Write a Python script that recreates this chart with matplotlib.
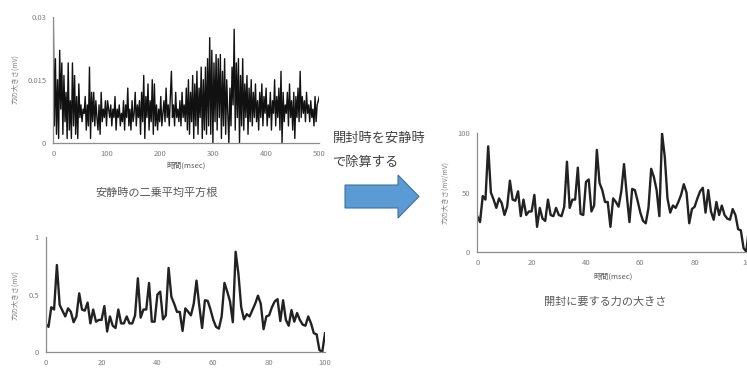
import numpy as np
import matplotlib
matplotlib.use('Agg')
import matplotlib.pyplot as plt
from matplotlib.patches import Polygon

plt.rcParams['font.family'] = ['Noto Sans CJK JP', 'DejaVu Sans']

# resting RMS (mV), sampled every 2 msec from 0 to 500
rest_rms = [
    .030, .004, .020, .002, .015, .001, .022, .008, .019, .002, .016, .005, .012,
    .001, .019, .003, .010, .001, .019, .004, .016, .002, .011, .001, .014, .006,
    .009, .005, .008, .007, .011, .003, .009, .004, .018, .001, .012, .005, .012,
    .004, .010, .006, .003, .009, .002, .012, .005, .008, .006, .010, .004,
    .010, .008, .006, .009, .004, .008, .006, .011, .003, .008, .006, .009, .004,
    .007, .005, .010, .003, .009, .006, .013, .004, .008, .003, .010, .005, .007,
    .012, .004, .009, .006, .010, .002, .012, .005, .016, .001, .011, .006, .014,
    .003, .010, .005, .015, .002, .014, .004, .009, .003, .008, .005, .011, .004,
    .007, .010, .005, .013, .006, .009, .004, .011, .017, .006, .009, .004, .012,
    .006, .008, .005, .010, .004, .012, .006, .009, .005, .013,
    .003, .015, .002, .012, .005, .016, .001, .014, .004, .017, .002, .013, .006,
    .018, .001, .015, .003, .018, .002, .020, .004, .025, .002, .022, .000, .019,
    .005, .021, .003, .020, .006, .021, .001, .017, .004, .020, .002, .015, .007,
    .000, .013, .004, .018, .009, .027, .003, .019, .006, .020, .000, .016, .004,
    .020, .003, .014, .006, .016, .002, .013, .005, .015, .004, .012, .006, .014,
    .005, .010, .003, .012, .006, .014, .004, .011, .007, .013, .004, .009, .006,
    .012, .003, .010, .007, .015, .004, .011, .006, .013, .003, .017, .000, .012,
    .005, .009, .007, .012, .004, .014, .006, .010, .003, .012, .001, .011, .006,
    .013, .005, .017, .006, .011, .007, .010, .005, .012, .007, .009, .005, .010,
    .006, .008, .004, .011, .005, .009, .010, .011,
]

# force while opening (mV), 0..100 msec
open_force = [
    .245, .22, .39, .37, .755, .41, .36, .31, .38, .35,
    .26, .31, .51, .37, .36, .43, .25, .37, .265, .28,
    .28, .40, .18, .31, .23, .21, .37, .25, .25, .31,
    .25, .25, .32, .64, .30, .37, .37, .60, .265, .265,
    .50, .525, .285, .32, .73, .48, .42, .35, .35, .185,
    .38, .35, .32, .42, .62, .40, .21, .45, .445, .37,
    .28, .22, .205, .31, .60, .525, .44, .26, .87, .68,
    .39, .285, .33, .31, .365, .42, .49, .42, .20, .31,
    .32, .39, .44, .46, .27, .45, .28, .23, .365, .265,
    .34, .28, .24, .23, .31, .25, .165, .155, .02, .0,
    .165,
]

# force divided by resting RMS (mV/mV)
ratio = [
    30, 25, 47, 44, 89, 50, 44, 37, 45, 41,
    31, 38, 60, 44, 43, 51, 30, 44, 31, 34,
    34, 48, 21, 37, 28, 26, 44, 31, 30, 37,
    31, 30, 38, 76, 37, 44, 44, 71, 32, 31,
    59, 61, 34, 39, 86, 58, 52, 42, 42, 21,
    45, 42, 38, 51, 74, 48, 25, 53, 52, 43,
    33, 26, 24, 37, 70, 63, 52, 30, 100, 80,
    45, 33, 39, 37, 42, 48, 57, 50, 24, 36,
    38, 45, 51, 54, 33, 52, 34, 27, 42, 31,
    39, 31, 28, 27, 36, 31, 19, 18, 3, 0,
    20,
]

W, H = 747, 372
def fx(px):
    return px / W
def fy(py):
    return 1 - py / H

fig = plt.figure(figsize=(W / 100, H / 100), dpi=100)

def style(ax, xticks, yticks, ylabels):
    for s in ['top', 'right']:
        ax.spines[s].set_visible(False)
    for s in ['left', 'bottom']:
        ax.spines[s].set_color('#8c8c8c')
        ax.spines[s].set_linewidth(0.9)
    ax.set_xticks(xticks)
    ax.set_yticks(yticks)
    ax.set_yticklabels(ylabels)
    ax.tick_params(length=0, labelsize=5.5, colors='#7f7f7f', pad=5)

# top left: resting RMS
ax1 = fig.add_axes([fx(53.3), fy(142.7), fx(319.3) - fx(53.3), fy(16.7) - fy(142.7)])
t = np.linspace(0, 500, len(rest_rms))
ax1.plot(t, rest_rms, color='#111111', lw=1.0)
ax1.set_xlim(0, 500)
ax1.set_ylim(0, 0.03)
style(ax1, [0, 100, 200, 300, 400, 500], [0, 0.015, 0.03], ['0', '0.015', '0.03'])
fig.text(fx(15), fy(79), '力の大きさ(mV)', rotation=90, ha='center', va='center', fontsize=5, color='#7f7f7f')
fig.text(fx(186), fy(166), '時間(msec)', ha='center', va='center', fontsize=5.5, color='#595959')
fig.text(fx(157), fy(193), '安静時の二乗平均平方根', ha='center', va='center', fontsize=8, color='#595959')

# bottom left: force while opening
ax2 = fig.add_axes([fx(45.7), fy(352.3), fx(325) - fx(45.7), fy(236.7) - fy(352.3)])
ax2.plot(range(len(open_force)), open_force, color='#222222', lw=1.7)
ax2.set_xlim(0, 100)
ax2.set_ylim(0, 1)
style(ax2, [0, 20, 40, 60, 80, 100], [0, 0.5, 1], ['0', '0.5', '1'])
fig.text(fx(15), fy(295), '力の大きさ(mV)', rotation=90, ha='center', va='center', fontsize=5, color='#7f7f7f')

# right: ratio
ax3 = fig.add_axes([fx(477.3), fy(251.7), fx(749) - fx(477.3), fy(133.3) - fy(251.7)])
ax3.plot(range(len(ratio)), ratio, color='#222222', lw=1.7)
ax3.set_xlim(0, 100)
ax3.set_ylim(0, 100)
style(ax3, [0, 20, 40, 60, 80, 100], [0, 50, 100], ['0', '50', '100'])
fig.text(fx(445), fy(192), '力の大きさ(mV/mV)', rotation=90, ha='center', va='center', fontsize=5, color='#7f7f7f')
fig.text(fx(613), fy(277), '時間(msec)', ha='center', va='center', fontsize=5.5, color='#595959')
fig.text(fx(605), fy(302), '開封に要する力の大きさ', ha='center', va='center', fontsize=8, color='#595959')

# arrow and note
arrow_px = [(345, 185), (398, 185), (398, 175), (419, 196.5), (398, 218), (398, 208), (345, 208)]
arrow = Polygon([(fx(x), fy(y)) for x, y in arrow_px], closed=True, transform=fig.transFigure,
                facecolor='#5b9bd5', edgecolor='#41719c', lw=0.8)
fig.patches.append(arrow)
fig.text(fx(333), fy(138), '開封時を安静時', ha='left', va='center', fontsize=9.5, color='#404040')
fig.text(fx(333), fy(162), 'で除算する', ha='left', va='center', fontsize=9.5, color='#404040')

fig.savefig('out.png', dpi=100)
